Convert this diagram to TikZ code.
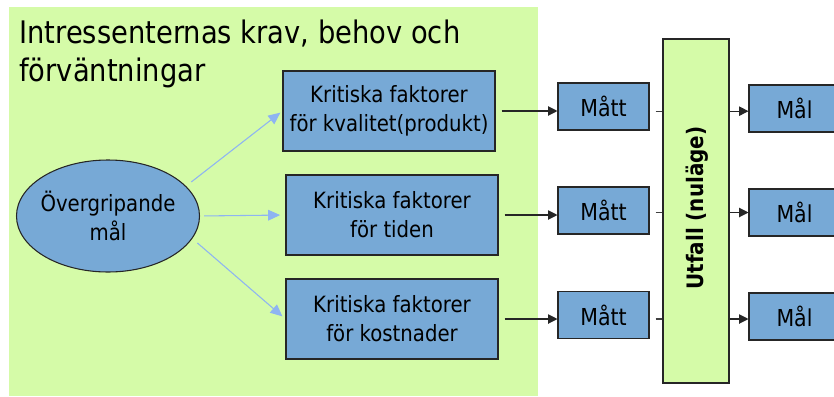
\documentclass[tikz,border=0pt]{standalone}
\usepackage{fontspec}
\setmainfont[FakeStretch=0.88]{DejaVu Sans}
\usetikzlibrary{arrows.meta,shapes.geometric}
\definecolor{bgreen}{HTML}{D5FBA8}
\definecolor{bblue}{HTML}{77A9D6}
\definecolor{larrow}{HTML}{8EB4F2}
\tikzset{
  bluebox/.style={draw=black!85, line width=0.8pt, fill=bblue, inner sep=0pt, align=center, font=\fontsize{16.8}{21.75}\selectfont},
  bigbox/.style={bluebox, minimum width=159pt, minimum height=60pt},
  smallbox/.style={bluebox, minimum width=68.25pt, minimum height=35.25pt, font=\fontsize{17.5}{21.75}\selectfont},
  bluearrow/.style={draw=larrow, line width=0.8pt, -{Triangle[length=9pt,width=8pt]}},
  blackarrow/.style={draw=black!85, line width=0.8pt, -{Triangle[length=7pt,width=7pt]}},
  plainline/.style={draw=black!75, line width=0.8pt}
}
\begin{document}
\begin{tikzpicture}[x=0.75pt,y=-0.75pt]
\useasboundingbox (0,0) rectangle (834,396);
\fill[bgreen] (9,7) rectangle (538,396);
\node[anchor=north west, align=left, inner sep=0pt, font=\fontsize{23.3}{28}\selectfont] (title) at (19,20) {Intressenternas krav, behov och\\förväntningar};
\node[bluebox, ellipse, inner xsep=-3.5pt, minimum width=137.25pt, minimum height=84pt] (e) at (108,216) {Övergripande\\mål};
\node[bigbox] (b1) at (389,111) {Kritiska faktorer\\för kvalitet(produkt)};
\node[bigbox] (b2) at (392,215) {Kritiska faktorer\\för tiden};
\node[bigbox] (b3) at (392,319) {Kritiska faktorer\\för kostnader};
\node[smallbox] (m1) at (603.5,106.5) {Mått};
\node[smallbox] (m2) at (603.5,210.5) {Mått};
\node[smallbox] (m3) at (603.5,315) {Mått};
\node[draw=black!85, line width=0.8pt, fill=bgreen, minimum width=49.5pt, minimum height=258pt, inner sep=0pt] (u) at (696,211) {};
\node[rotate=90, font=\bfseries\fontsize{17}{20}\selectfont, inner sep=0pt] (ut) at (697,208) {Utfall (nuläge)};
\node[smallbox] (g1) at (794.5,108.5) {Mål};
\node[smallbox] (g2) at (794.5,212.5) {Mål};
\node[smallbox] (g3) at (794.5,316.5) {Mål};
\draw[bluearrow, shorten <=5pt, shorten >=2pt] (e.21) -- (b1.west);
\draw[bluearrow, shorten <=3pt, shorten >=4pt] (e.east) -- (b2.west);
\draw[bluearrow, shorten <=5pt, shorten >=3pt] (e.-15) -- (b3.west);
\draw[blackarrow] ([xshift=4.5pt]b1.east) -- (b1.east -| m1.west);
\draw[blackarrow] ([xshift=4.5pt]b2.east) -- (b2.east -| m2.west);
\draw[blackarrow] ([xshift=4.5pt]b3.east) -- (b3.east -| m3.west);
\draw[plainline] ([xshift=4.5pt,yshift=-3.5pt]m1.east) -- ([yshift=-3.5pt]m1.east -| u.west);
\draw[plainline] ([xshift=4.5pt,yshift=-1.5pt]m2.east) -- ([yshift=-1.5pt]m2.east -| u.west);
\draw[plainline] ([xshift=4.5pt,yshift=-3pt]m3.east) -- ([yshift=-3pt]m3.east -| u.west);
\draw[blackarrow] ([yshift=-3.5pt]m1.east -| u.east) -- ([yshift=-3.5pt]m1.east -| g1.west);
\draw[blackarrow] ([yshift=-1.5pt]m2.east -| u.east) -- ([yshift=-1.5pt]m2.east -| g2.west);
\draw[blackarrow] ([yshift=-3pt]m3.east -| u.east) -- ([yshift=-3pt]m3.east -| g3.west);
\end{tikzpicture}
\end{document}
